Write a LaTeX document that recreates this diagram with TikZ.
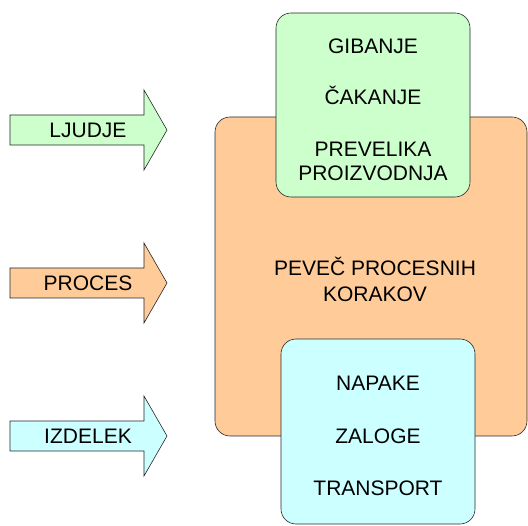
\documentclass[tikz,border=0pt]{standalone}
\usepackage{fontspec}
\setmainfont{Liberation Sans}
\definecolor{lgreen}{RGB}{204,255,204}
\definecolor{lorange}{RGB}{255,204,153}
\definecolor{lcyan}{RGB}{204,255,255}
\begin{document}
\begin{tikzpicture}[x=1pt,y=-1pt,
  outline/.style={draw=black!85, line width=0.6pt},
  box/.style={outline, rounded corners=15pt},
  lbl/.style={font=\fontsize{21}{24}\selectfont, inner sep=0pt, align=center, anchor=base}]
\useasboundingbox (0,0) rectangle (528,526);

% block arrows on the left
\foreach \name/\cy/\col/\txt in {ljudje/130/lgreen/LJUDJE, proces/283/lorange/PROCES, izdelek/436/lcyan/IZDELEK}{
  \draw[outline, fill=\col]
    (10,\cy-15) -- (144,\cy-15) -- (144,\cy-40) -- (167,\cy) -- (144,\cy+40)
    -- (144,\cy+15) -- (10,\cy+15) -- cycle;
  \node[lbl] (\name) at (88,\cy+7.5) {\txt};
}

% central process block
\draw[box, fill=lorange] (215,117) rectangle (527,436);
\node[lbl] (korak1) at (375,276) {PEVEČ PROCESNIH};
\node[lbl] (korak2) at (375,302) {KORAKOV};

% upper waste block
\draw[box, fill=lgreen] (276,13) rectangle (470,197);
\node[lbl] (gibanje) at (373,54) {GIBANJE};
\node[lbl] (cakanje) at (373,105) {ČAKANJE};
\node[lbl] (prev1) at (373,157) {PREVELIKA};
\node[lbl] (prev2) at (373,181) {PROIZVODNJA};

% lower waste block
\draw[box, fill=lcyan] (281,339) rectangle (475,524);
\node[lbl] (napake) at (378,391) {NAPAKE};
\node[lbl] (zaloge) at (378,444) {ZALOGE};
\node[lbl] (transport) at (378,496) {TRANSPORT};
\end{tikzpicture}
\end{document}
